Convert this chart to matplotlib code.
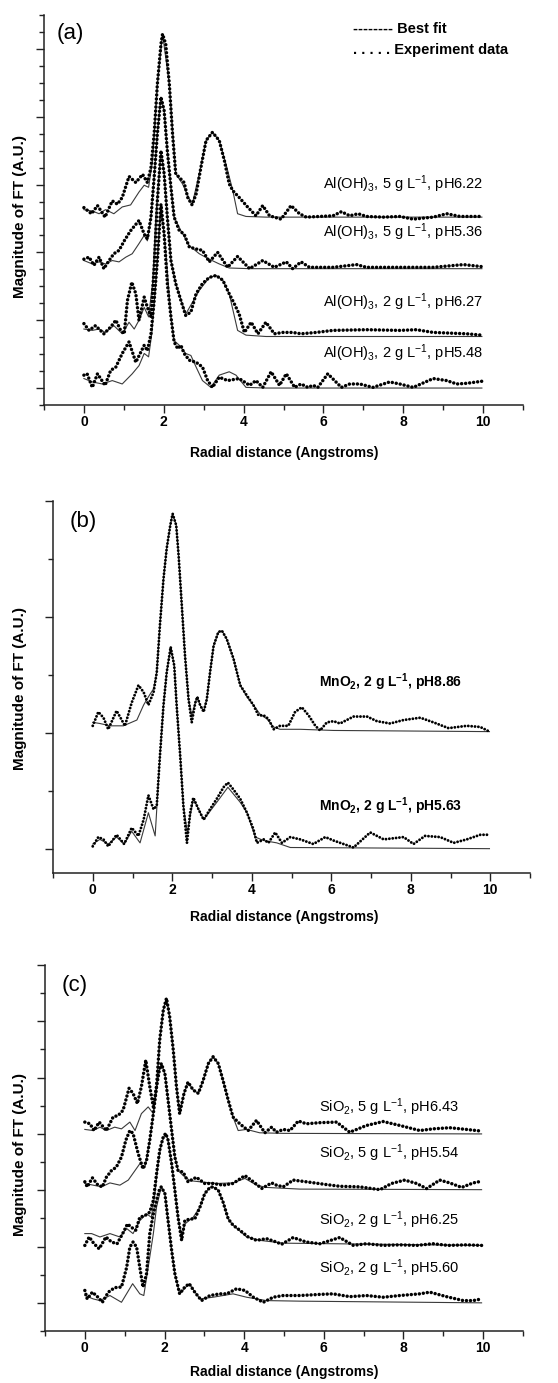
import matplotlib
matplotlib.use("Agg")
import matplotlib.pyplot as plt
from matplotlib.ticker import MultipleLocator

plt.rcParams['font.family'] = ['Liberation Sans', 'DejaVu Sans']
plt.rcParams['mathtext.default'] = 'regular'

# ---------------- Panel (a): Al(OH)3 ----------------
a1_exp_x = [0.00,0.19,0.34,0.53,0.71,0.84,0.96,1.13,1.30,1.47,1.59,1.68,1.76,1.84,1.93,1.97,2.05,2.14,2.22,2.30,2.43,2.51,2.60,2.71,2.81,2.93,3.06,3.22,3.39,3.52,3.64,3.73,3.89,4.10,4.31,4.48,4.65,4.94,5.19,5.40,5.57,6.24,6.45,6.66,6.87,7.08,7.50,7.91,8.25,8.75,9.09,9.42,9.97]
a1_exp_y = [2.66,2.57,2.69,2.52,2.76,2.71,2.81,3.12,3.03,3.15,3.03,3.25,3.75,4.48,5.07,5.22,5.07,4.48,3.75,3.16,3.08,3.03,2.81,2.70,2.86,3.25,3.65,3.77,3.65,3.35,3.01,2.91,2.81,2.67,2.54,2.69,2.54,2.49,2.69,2.57,2.52,2.54,2.60,2.54,2.57,2.53,2.52,2.53,2.49,2.52,2.57,2.53,2.53]
a1_fit_x = [0.00,0.21,0.38,0.54,0.75,0.96,1.17,1.38,1.51,1.62,1.72,1.84,1.97,2.14,2.30,2.47,2.71,2.89,3.06,3.22,3.39,3.56,3.73,3.85,4.06,4.56,6.24,9.97]
a1_fit_y = [2.63,2.61,2.57,2.63,2.57,2.67,2.70,2.89,2.99,2.96,3.35,4.48,5.22,4.48,3.16,3.01,2.70,3.16,3.65,3.77,3.65,3.30,2.91,2.57,2.53,2.52,2.52,2.52]

a2_exp_x = [0.00,0.13,0.25,0.38,0.50,0.63,0.75,0.88,1.01,1.17,1.38,1.51,1.59,1.68,1.76,1.84,1.93,2.01,2.09,2.18,2.26,2.39,2.51,2.64,2.81,2.97,3.14,3.35,3.60,3.85,4.15,4.48,4.77,5.07,5.23,5.44,5.65,5.90,6.24,6.83,7.08,7.91,8.75,9.51,9.97]
a2_exp_y = [1.90,1.93,1.81,1.93,1.76,1.88,1.98,2.03,2.17,2.32,2.47,2.27,2.20,2.52,3.11,3.75,4.29,4.09,3.50,2.96,2.52,2.32,2.27,2.08,2.05,2.03,1.86,2.00,1.78,1.94,1.76,1.88,1.78,1.86,1.76,1.86,1.78,1.78,1.78,1.82,1.78,1.78,1.78,1.82,1.79]
a2_fit_x = [0.00,0.21,0.38,0.54,0.71,0.88,1.05,1.21,1.38,1.51,1.59,1.68,1.76,1.84,1.93,2.01,2.09,2.18,2.26,2.43,2.64,2.89,3.14,3.39,3.64,4.15,9.97]
a2_fit_y = [1.88,1.83,1.86,1.83,1.88,1.86,1.93,1.98,2.13,2.25,2.17,2.52,3.11,3.75,4.29,4.09,3.50,2.96,2.52,2.32,2.10,1.98,1.90,1.83,1.77,1.76,1.76]

a3_exp_x = [0.00,0.13,0.29,0.50,0.67,0.80,0.92,1.01,1.09,1.20,1.30,1.38,1.51,1.59,1.68,1.76,1.84,1.93,2.01,2.09,2.18,2.30,2.43,2.55,2.68,2.81,2.97,3.14,3.31,3.48,3.64,3.77,3.89,4.02,4.19,4.36,4.56,4.77,4.98,5.23,5.44,5.82,6.24,7.08,7.91,8.33,8.75,9.59,9.97]
a3_exp_y = [0.95,0.85,0.92,0.80,0.90,1.00,0.85,0.80,1.29,1.56,1.39,1.00,1.34,1.19,1.05,1.78,2.76,3.50,3.16,2.52,1.88,1.54,1.29,1.07,1.12,1.39,1.54,1.63,1.66,1.59,1.39,1.24,1.09,0.82,0.97,0.80,0.97,0.80,0.82,0.82,0.80,0.82,0.85,0.86,0.85,0.86,0.82,0.80,0.78]
a3_fit_x = [0.00,0.21,0.38,0.54,0.75,0.96,1.13,1.26,1.38,1.51,1.62,1.72,1.80,1.93,2.01,2.09,2.18,2.30,2.55,2.89,3.14,3.31,3.48,3.64,3.85,4.06,4.56,9.97]
a3_fit_y = [0.87,0.85,0.87,0.82,0.92,0.80,0.97,0.87,1.00,1.19,1.05,1.54,2.52,3.50,3.16,2.52,1.88,1.54,1.09,1.44,1.63,1.66,1.59,1.39,0.85,0.78,0.76,0.76]

a4_exp_x = [0.00,0.08,0.21,0.34,0.53,0.67,0.80,0.96,1.13,1.30,1.51,1.59,1.68,1.76,1.84,1.93,2.01,2.09,2.18,2.26,2.35,2.43,2.51,2.64,2.81,2.97,3.10,3.22,3.39,3.60,3.89,4.15,4.31,4.48,4.69,4.90,5.07,5.28,5.44,5.61,5.74,5.86,6.11,6.45,6.66,6.91,7.24,7.66,7.91,8.25,8.75,9.09,9.34,9.59,9.97]
a4_exp_y = [0.19,0.21,0.01,0.21,0.04,0.26,0.31,0.51,0.68,0.38,0.63,0.55,0.80,1.29,1.88,2.71,2.27,1.54,1.05,0.68,0.58,0.63,0.51,0.41,0.38,0.31,0.11,0.01,0.16,0.11,0.14,0.04,0.11,0.01,0.24,0.04,0.21,0.01,0.06,0.01,0.04,0.01,0.21,0.01,0.06,0.06,0.01,0.09,0.06,0.01,0.14,0.11,0.06,0.07,0.10]
a4_fit_x = [0.00,0.21,0.46,0.71,0.96,1.21,1.38,1.51,1.62,1.70,1.80,1.93,2.05,2.18,2.26,2.39,2.55,2.68,2.81,2.97,3.18,3.39,3.64,3.81,4.06,4.56,9.97]
a4_fit_y = [0.14,0.09,0.06,0.11,0.06,0.21,0.33,0.51,0.46,0.80,1.54,2.71,2.03,1.05,0.70,0.63,0.51,0.48,0.31,0.11,0.01,0.19,0.24,0.19,0.01,0.00,0.00]

labels_a = [r'Al(OH)$_3$, 5 g L$^{-1}$, pH6.22', r'Al(OH)$_3$, 5 g L$^{-1}$, pH5.36',
            r'Al(OH)$_3$, 2 g L$^{-1}$, pH6.27', r'Al(OH)$_3$, 2 g L$^{-1}$, pH5.48']
label_y_a = [3.01, 2.30, 1.27, 0.51]

# ---------------- Panel (b): MnO2 ----------------
b1_exp_x = [0.00,0.14,0.27,0.39,0.60,0.81,0.98,1.15,1.28,1.40,1.53,1.61,1.69,1.78,1.86,1.95,2.01,2.10,2.16,2.24,2.32,2.41,2.49,2.58,2.63,2.70,2.79,2.87,2.95,3.04,3.16,3.25,3.37,3.54,3.71,3.88,4.04,4.17,4.30,4.42,4.55,4.71,4.92,5.09,5.26,5.43,5.60,5.72,5.89,6.06,6.22,6.39,6.56,6.90,7.15,7.48,7.82,8.24,8.57,8.95,9.41,9.75,9.98]
b1_exp_y = [1.06,1.18,1.13,1.03,1.19,1.06,1.26,1.41,1.35,1.24,1.35,1.52,1.93,2.33,2.59,2.79,2.89,2.79,2.53,2.10,1.67,1.29,1.09,1.26,1.31,1.24,1.18,1.29,1.52,1.75,1.87,1.88,1.81,1.64,1.41,1.32,1.24,1.15,1.15,1.12,1.03,1.06,1.06,1.18,1.22,1.15,1.06,1.02,1.09,1.10,1.08,1.11,1.14,1.14,1.10,1.08,1.11,1.13,1.09,1.04,1.06,1.05,1.01]
b1_fit_x = [0.00,0.18,0.44,0.77,1.11,1.28,1.40,1.53,1.61,1.69,1.78,1.86,1.95,2.01,2.10,2.16,2.24,2.32,2.41,2.49,2.58,2.63,2.70,2.79,2.87,2.95,3.04,3.16,3.25,3.37,3.54,3.71,3.88,4.04,4.21,4.38,4.55,4.71,5.22,6.06,9.98]
b1_fit_y = [1.09,1.08,1.06,1.06,1.11,1.24,1.31,1.38,1.52,1.93,2.33,2.59,2.79,2.89,2.79,2.53,2.10,1.67,1.29,1.15,1.26,1.31,1.24,1.19,1.29,1.52,1.75,1.87,1.88,1.81,1.64,1.41,1.31,1.24,1.16,1.12,1.05,1.03,1.03,1.02,1.01]

b2_exp_x = [0.00,0.14,0.27,0.39,0.60,0.79,0.98,1.15,1.28,1.40,1.53,1.61,1.69,1.78,1.86,1.96,2.05,2.11,2.20,2.28,2.37,2.45,2.53,2.66,2.79,2.95,3.12,3.29,3.40,3.54,3.71,3.88,4.04,4.13,4.30,4.42,4.59,4.76,4.97,5.22,5.55,5.85,6.06,6.56,6.98,7.32,7.82,8.07,8.36,8.74,9.08,9.41,9.75,9.98]
b2_exp_y = [0.02,0.10,0.08,0.02,0.12,0.04,0.18,0.11,0.25,0.46,0.34,0.37,0.80,1.24,1.52,1.74,1.58,1.24,0.80,0.37,0.05,0.31,0.44,0.34,0.25,0.34,0.43,0.53,0.57,0.51,0.43,0.31,0.17,0.05,0.08,0.05,0.14,0.05,0.10,0.08,0.04,0.10,0.07,0.01,0.14,0.08,0.10,0.04,0.11,0.10,0.05,0.08,0.12,0.12]
b2_fit_x = [0.00,0.18,0.39,0.60,0.79,0.98,1.19,1.40,1.57,1.69,1.78,1.86,1.96,2.05,2.11,2.20,2.28,2.38,2.53,2.79,3.12,3.40,3.71,3.88,4.09,4.30,4.63,4.97,9.98]
b2_fit_y = [0.04,0.08,0.04,0.10,0.04,0.15,0.05,0.31,0.11,0.80,1.24,1.52,1.74,1.58,1.24,0.80,0.37,0.14,0.43,0.25,0.40,0.53,0.40,0.31,0.10,0.07,0.05,0.01,0.00]

labels_b = [r'MnO$_2$, 2 g L$^{-1}$, pH8.86', r'MnO$_2$, 2 g L$^{-1}$, pH5.63']
label_y_b = [1.44, 0.37]

# ---------------- Panel (c): SiO2 ----------------
c1_exp_x = [0.00,0.13,0.23,0.36,0.54,0.71,0.84,0.96,1.11,1.21,1.32,1.42,1.53,1.63,1.72,1.80,1.88,1.97,2.05,2.13,2.22,2.30,2.38,2.49,2.59,2.72,2.85,2.97,3.10,3.22,3.35,3.47,3.60,3.72,3.89,4.10,4.31,4.52,4.69,4.81,4.98,5.15,5.36,5.56,5.90,6.32,6.65,7.07,7.49,7.91,8.41,8.74,9.16,9.58,9.96]
c1_exp_y = [3.21,3.18,3.06,3.21,3.06,3.30,3.33,3.42,3.81,3.72,3.54,3.84,4.31,3.84,3.48,3.84,4.67,5.20,5.41,5.08,4.49,3.84,3.36,3.72,3.92,3.78,3.72,3.95,4.25,4.37,4.25,3.95,3.60,3.30,3.18,3.06,3.24,3.02,3.12,3.03,3.08,3.06,3.23,3.18,3.20,3.21,3.03,3.15,3.22,3.15,3.06,3.09,3.11,3.08,3.05]
c1_fit_x = [0.00,0.21,0.38,0.54,0.75,0.92,1.13,1.26,1.42,1.59,1.72,1.80,1.88,1.97,2.05,2.13,2.22,2.30,2.38,2.49,2.59,2.72,2.85,2.97,3.10,3.22,3.35,3.47,3.60,3.72,3.85,4.06,4.39,4.98,9.96]
c1_fit_y = [3.08,3.06,3.12,3.06,3.12,3.09,3.21,3.06,3.36,3.48,3.36,3.78,4.67,5.20,5.41,5.08,4.49,3.84,3.36,3.72,3.92,3.78,3.72,3.95,4.25,4.37,4.25,3.95,3.60,3.30,3.06,3.08,3.02,3.01,3.00]

c2_exp_x = [0.00,0.06,0.19,0.33,0.44,0.54,0.67,0.79,0.92,1.03,1.13,1.21,1.34,1.46,1.55,1.63,1.72,1.80,1.87,1.92,2.01,2.09,2.18,2.26,2.34,2.47,2.59,2.80,3.01,3.22,3.47,3.72,4.02,4.23,4.44,4.69,4.81,4.98,5.23,5.56,6.07,6.40,6.90,7.41,7.70,8.03,8.33,8.58,8.91,9.16,9.46,9.75,9.96]
c2_exp_y = [2.15,2.06,2.22,2.09,2.06,2.23,2.35,2.41,2.59,2.89,3.06,3.01,2.65,2.38,2.53,2.89,3.36,3.84,4.13,4.25,4.07,3.60,3.06,2.59,2.35,2.32,2.15,2.23,2.12,2.12,2.09,2.12,2.26,2.15,2.03,2.13,2.09,2.06,2.18,2.15,2.10,2.07,2.06,2.01,2.12,2.18,2.12,2.03,2.18,2.13,2.05,2.13,2.16]
c2_fit_x = [0.00,0.21,0.42,0.63,0.88,1.09,1.26,1.38,1.51,1.63,1.72,1.80,1.87,1.92,2.01,2.09,2.18,2.26,2.34,2.47,2.64,2.89,3.31,3.72,4.02,4.31,4.56,5.40,9.96]
c2_fit_y = [2.12,2.09,2.06,2.13,2.09,2.18,2.35,2.47,2.41,2.89,3.36,3.84,4.13,4.25,4.07,3.60,3.06,2.59,2.35,2.26,2.17,2.15,2.12,2.13,2.21,2.09,2.05,2.02,2.01]

c3_exp_x = [0.00,0.11,0.23,0.36,0.53,0.67,0.81,0.95,1.07,1.21,1.28,1.38,1.51,1.63,1.72,1.80,1.88,1.97,2.03,2.09,2.18,2.26,2.34,2.43,2.51,2.64,2.76,2.89,3.01,3.14,3.22,3.35,3.47,3.60,3.72,3.89,4.10,4.31,4.56,4.81,4.94,5.23,5.56,5.90,6.40,6.74,7.07,7.49,7.91,8.33,8.74,9.12,9.58,9.96]
c3_exp_y = [1.02,1.17,1.05,0.96,1.17,1.08,1.05,1.23,1.40,1.32,1.29,1.52,1.55,1.61,1.82,2.29,2.71,2.95,3.01,2.89,2.47,2.00,1.52,1.11,1.46,1.49,1.49,1.70,1.94,2.05,2.06,2.00,1.79,1.49,1.38,1.29,1.17,1.11,1.14,1.08,1.04,1.16,1.08,1.05,1.16,1.02,1.05,1.02,1.03,1.02,1.05,1.02,1.03,1.02]
c3_fit_x = [0.00,0.17,0.38,0.63,0.88,1.05,1.21,1.38,1.55,1.67,1.76,1.84,1.92,2.03,2.09,2.18,2.26,2.34,2.43,2.51,2.72,2.89,3.01,3.14,3.22,3.35,3.47,3.60,3.72,4.06,4.39,4.98,9.96]
c3_fit_y = [1.23,1.23,1.17,1.23,1.17,1.32,1.23,1.46,1.58,1.52,1.94,2.47,2.83,3.01,2.89,2.47,2.00,1.52,1.17,1.40,1.52,1.70,1.94,2.05,2.06,2.00,1.79,1.49,1.38,1.17,1.11,1.06,1.02]

c4_exp_x = [0.00,0.06,0.19,0.33,0.44,0.59,0.75,0.92,1.05,1.13,1.21,1.30,1.38,1.46,1.55,1.63,1.72,1.80,1.88,1.92,2.01,2.09,2.18,2.26,2.38,2.51,2.62,2.76,2.93,3.14,3.39,3.56,3.81,4.02,4.23,4.48,4.73,4.98,5.40,5.90,6.23,6.65,7.07,7.49,7.91,8.41,8.66,9.08,9.50,9.75,9.96]
c4_exp_y = [0.22,0.07,0.19,0.10,0.01,0.19,0.27,0.28,0.63,0.99,1.08,0.99,0.63,0.28,0.52,1.23,1.58,1.82,2.03,2.06,1.94,1.46,0.93,0.52,0.16,0.28,0.34,0.19,0.04,0.13,0.16,0.16,0.25,0.22,0.10,0.01,0.10,0.13,0.13,0.15,0.16,0.11,0.13,0.10,0.13,0.16,0.19,0.11,0.04,0.04,0.07]
c4_fit_x = [0.00,0.21,0.38,0.63,0.92,1.20,1.38,1.48,1.59,1.72,1.80,1.92,2.01,2.09,2.18,2.26,2.38,2.62,2.89,3.22,3.72,4.06,4.56,5.40,9.96]
c4_fit_y = [0.13,0.07,0.04,0.13,0.01,0.34,0.16,0.13,0.63,1.23,1.70,2.06,1.94,1.46,0.93,0.52,0.16,0.34,0.07,0.10,0.16,0.10,0.04,0.03,0.00]

labels_c = [r'SiO$_2$, 5 g L$^{-1}$, pH6.43', r'SiO$_2$, 5 g L$^{-1}$, pH5.54',
            r'SiO$_2$, 2 g L$^{-1}$, pH6.25', r'SiO$_2$, 2 g L$^{-1}$, pH5.60']
label_y_c = [3.48, 2.65, 1.46, 0.62]

x_ticks = [0, 2, 4, 6, 8, 10]

# ---------------- Figure ----------------
W, H = 558, 1383
fig = plt.figure(figsize=(W / 100, H / 100), dpi=100)


def box(l, t, r, b):
    return [l / W, 1 - b / H, (r - l) / W, (b - t) / H]


ax_a = fig.add_axes(box(44, 15, 523, 405))
ax_b = fig.add_axes(box(53, 501, 530, 873))
ax_c = fig.add_axes(box(45, 965, 523, 1331))


def style(ax, ylim, ymaj, ymin):
    ax.set_xlim(-1, 11)
    ax.set_ylim(*ylim)
    for s in ['top', 'right']:
        ax.spines[s].set_visible(False)
    for s in ['left', 'bottom']:
        ax.spines[s].set_linewidth(1.1)
        ax.spines[s].set_color('#222222')
    ax.set_xticks(x_ticks)
    ax.set_xticklabels([str(t) for t in x_ticks], fontsize=10, fontweight='bold')
    ax.xaxis.set_minor_locator(MultipleLocator(1))
    ax.yaxis.set_major_locator(MultipleLocator(ymaj))
    ax.yaxis.set_minor_locator(MultipleLocator(ymin))
    ax.tick_params(which='major', direction='out', length=6, width=1.0,
                   colors='#222222', pad=1.5)
    ax.tick_params(which='minor', direction='out', length=3.5, width=1.0,
                   colors='#222222')
    ax.tick_params(axis='y', labelleft=False)
    ax.tick_params(axis='x', labelcolor='black')


def draw(ax, ex, ey, fx, fy, dot_lw=2.5):
    ax.plot(fx, fy, color='#3a3a3a', lw=0.8, zorder=2)
    ax.plot(ex, ey, color='black', lw=dot_lw, linestyle=(0, (0.01, 1.15)),
            dash_capstyle='round', zorder=3)


style(ax_a, (-0.25, 5.5), 1, 0.25)
style(ax_b, (-0.21, 3.0), 1, 0.5)
style(ax_c, (-0.5, 6.0), 1, 0.5)

draw(ax_a, a1_exp_x, a1_exp_y, a1_fit_x, a1_fit_y)
draw(ax_a, a2_exp_x, a2_exp_y, a2_fit_x, a2_fit_y)
draw(ax_a, a3_exp_x, a3_exp_y, a3_fit_x, a3_fit_y)
draw(ax_a, a4_exp_x, a4_exp_y, a4_fit_x, a4_fit_y)

draw(ax_b, b1_exp_x, b1_exp_y, b1_fit_x, b1_fit_y, dot_lw=2.1)
draw(ax_b, b2_exp_x, b2_exp_y, b2_fit_x, b2_fit_y, dot_lw=2.1)

draw(ax_c, c1_exp_x, c1_exp_y, c1_fit_x, c1_fit_y)
draw(ax_c, c2_exp_x, c2_exp_y, c2_fit_x, c2_fit_y)
draw(ax_c, c3_exp_x, c3_exp_y, c3_fit_x, c3_fit_y)
draw(ax_c, c4_exp_x, c4_exp_y, c4_fit_x, c4_fit_y)

for lab, yy in zip(labels_a, label_y_a):
    ax_a.text(10.0, yy, lab, ha='right', va='center', fontsize=10.5)
for lab, yy in zip(labels_b, label_y_b):
    ax_b.text(9.3, yy, lab, ha='right', va='center', fontsize=10, fontweight='bold')
for lab, yy in zip(labels_c, label_y_c):
    ax_c.text(9.4, yy, lab, ha='right', va='center', fontsize=10.5)

# panel letters
fig.text(57 / W, 1 - 33 / H, '(a)', fontsize=16, ha='left', va='center')
fig.text(70 / W, 1 - 522 / H, '(b)', fontsize=16, ha='left', va='center')
fig.text(62 / W, 1 - 985 / H, '(c)', fontsize=16, ha='left', va='center')

# legend text
fig.text(353 / W, 1 - 29 / H, '-------- Best fit', fontsize=10.5, fontweight='bold',
         ha='left', va='center')
fig.text(353 / W, 1 - 50 / H, '. . . . . Experiment data', fontsize=10.5,
         fontweight='bold', ha='left', va='center')

# axis labels
for yc in [217, 688, 1155]:
    fig.text(20 / W, 1 - yc / H, 'Magnitude of FT (A.U.)', rotation=90, fontsize=11,
             fontweight='bold', ha='center', va='center')
for yc in [453, 917, 1372]:
    fig.text(284 / W, 1 - yc / H, 'Radial distance (Angstroms)', fontsize=10,
             fontweight='bold', ha='center', va='center')

fig.savefig('out.png', dpi=100)
